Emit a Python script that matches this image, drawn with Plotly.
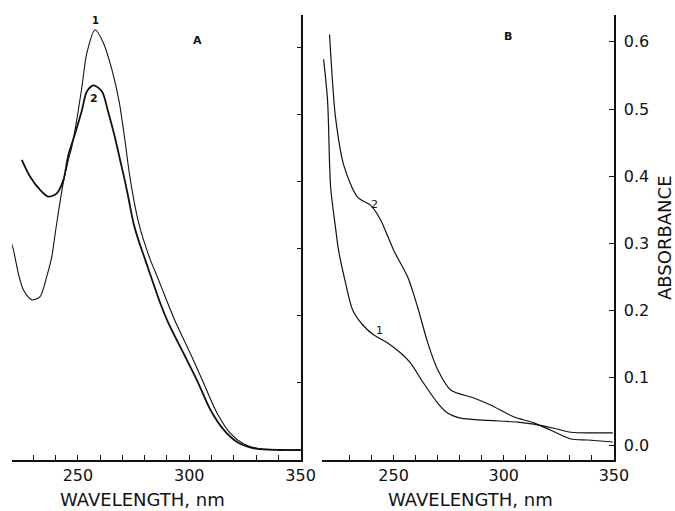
import plotly.graph_objects as go

# ---- Panel A data (wavelength nm, absorbance) ----
wl_A1 = [219.2, 221.0, 223.2, 225.5, 229.3, 233.0, 236.0, 238.3, 239.8, 241.2, 243.5, 245.7, 247.3, 249.5,
         251.8, 254.0, 257.7, 261.5, 265.3, 268.5, 271.0, 273.0, 275.0, 277.2, 279.5, 282.5, 286.2, 290.0,
         294.0, 300.5, 306.5, 312.5, 318.5, 324.5, 330.5, 341.0, 350.0]
abs_A1 = [0.318, 0.299, 0.264, 0.239, 0.224, 0.229, 0.259, 0.289, 0.323, 0.354, 0.400, 0.433, 0.453, 0.493,
          0.542, 0.592, 0.627, 0.607, 0.567, 0.520, 0.465, 0.415, 0.375, 0.340, 0.313, 0.284, 0.254, 0.222,
          0.190, 0.144, 0.0995, 0.055, 0.025, 0.009, 0.0025, 0.0, 0.0]

wl_A2 = [224.8, 228.5, 233.0, 236.7, 240.5, 243.5, 245.7, 248.8, 251.8, 254.0, 257.0, 260.8, 263.7, 266.5,
         269.0, 271.2, 272.7, 275.0, 277.2, 280.2, 283.3, 287.0, 290.7, 297.5, 303.5, 309.5, 315.5, 321.5,
         329.0, 341.0, 350.0]
abs_A2 = [0.433, 0.408, 0.388, 0.378, 0.383, 0.403, 0.440, 0.473, 0.507, 0.535, 0.544, 0.535, 0.503, 0.468,
          0.432, 0.400, 0.376, 0.338, 0.313, 0.284, 0.254, 0.219, 0.189, 0.144, 0.104, 0.060, 0.030, 0.012,
          0.0025, 0.0, 0.0]

# ---- Panel B data ----
wl_B1 = [218.2, 220.0, 221.4, 223.6, 225.0, 228.2, 231.4, 235.9, 240.9, 247.3, 253.2, 257.7, 263.6, 270.0,
         274.5, 280.5, 291.0, 306.4, 313.6, 322.7, 330.5, 339.5, 349.5]
abs_B1 = [0.574, 0.513, 0.384, 0.324, 0.290, 0.241, 0.201, 0.179, 0.164, 0.152, 0.137, 0.122, 0.092, 0.0625,
          0.0476, 0.040, 0.037, 0.034, 0.031, 0.025, 0.019, 0.018, 0.018]

wl_B2 = [220.9, 222.3, 223.6, 227.3, 233.6, 239.5, 244.1, 250.0, 256.4, 260.9, 265.5, 270.0, 275.9, 286.4,
         294.0, 304.5, 313.6, 321.4, 330.5, 338.0, 349.5]
abs_B2 = [0.611, 0.539, 0.488, 0.417, 0.369, 0.357, 0.335, 0.290, 0.250, 0.205, 0.152, 0.112, 0.082, 0.070,
          0.0595, 0.042, 0.033, 0.022, 0.009, 0.0075, 0.0045]

x_ticks_A = list(range(220, 351, 10))
x_ticks_B = list(range(230, 351, 10))
x_major = {250: "250", 300: "300", 350: "350"}
y_ticks = [0.0, 0.1, 0.2, 0.3, 0.4, 0.5, 0.6]

FONT = "DejaVu Sans"
RW, RH = 675, 511          # reference picture size (layout coordinates below are in its pixels)
W, H = 691, 511            # figure size (page is rendered ~691 CSS px wide into 675 px)

def px(x):
    return x / RW

def py(y):
    return 1 - y / RH

fig = go.Figure()
line_black = "#111111"
fig.add_trace(go.Scatter(x=wl_A1, y=abs_A1, mode="lines",
                         line=dict(color=line_black, width=1.1, shape="spline", smoothing=0.8),
                         xaxis="x", yaxis="y", showlegend=False))
fig.add_trace(go.Scatter(x=wl_A2, y=abs_A2, mode="lines",
                         line=dict(color=line_black, width=1.8, shape="spline", smoothing=0.8),
                         xaxis="x", yaxis="y", showlegend=False))
fig.add_trace(go.Scatter(x=wl_B1, y=abs_B1, mode="lines",
                         line=dict(color=line_black, width=1.2, shape="spline", smoothing=0.8),
                         xaxis="x2", yaxis="y2", showlegend=False))
fig.add_trace(go.Scatter(x=wl_B2, y=abs_B2, mode="lines",
                         line=dict(color=line_black, width=1.2, shape="spline", smoothing=0.8),
                         xaxis="x2", yaxis="y2", showlegend=False))

ydom = [py(460), py(15)]
common_x = dict(showgrid=False, zeroline=False, showline=True, linecolor=line_black, linewidth=1.5,
                ticks="inside", ticklen=5, tickwidth=1.3, tickcolor=line_black,
                tickfont=dict(family=FONT, size=16, color=line_black))
common_y = dict(showgrid=False, zeroline=False, showline=True, linecolor=line_black, linewidth=1.5,
                ticks="inside", ticklen=5, tickwidth=1.3, tickcolor=line_black, side="right",
                tickvals=y_ticks, domain=ydom)

fig.update_layout(
    width=W, height=H, margin=dict(l=0, r=0, t=0, b=0),
    paper_bgcolor="white", plot_bgcolor="white",
    xaxis=dict(domain=[px(12), px(301)], range=[220.4, 350.4], anchor="y",
               tickvals=x_ticks_A, ticktext=[x_major.get(v, "") for v in x_ticks_A], **common_x),
    yaxis=dict(anchor="x", range=[-0.0149, 0.649], showticklabels=False, **common_y),
    xaxis2=dict(domain=[px(322), px(613)], range=[217.7, 350], anchor="y2",
                tickvals=x_ticks_B, ticktext=[x_major.get(v, "") for v in x_ticks_B], **common_x),
    yaxis2=dict(anchor="x2", range=[-0.0223, 0.64], tickformat=".1f", ticklabelstandoff=5,
                tickfont=dict(family=FONT, size=16, color=line_black), **common_y),
)

annots = [
    ("WAVELENGTH, nm", 142, 499, 18, 0),
    ("WAVELENGTH, nm", 470, 499, 18, 0),
    ("ABSORBANCE", 664, 237, 18, -90),
    ("<b>A</b>", 197, 40, 11, 0),
    ("<b>B</b>", 507, 37, 11, 0),
    ("<b>1</b>", 95, 21, 10, 0),
    ("<b>2</b>", 94, 98, 11, 0),
    ("2", 374, 204, 11, 0),
    ("1", 379, 330, 11, 0),
]
for text, x, y, size, ang in annots:
    fig.add_annotation(text=text, x=px(x), y=py(y), xref="paper", yref="paper", showarrow=False,
                       textangle=ang, xanchor="center", yanchor="middle",
                       font=dict(family=FONT, size=size, color=line_black))

fig.write_html("out.html", config={"displayModeBar": False},
               post_script="document.body.style.margin='0px';")
